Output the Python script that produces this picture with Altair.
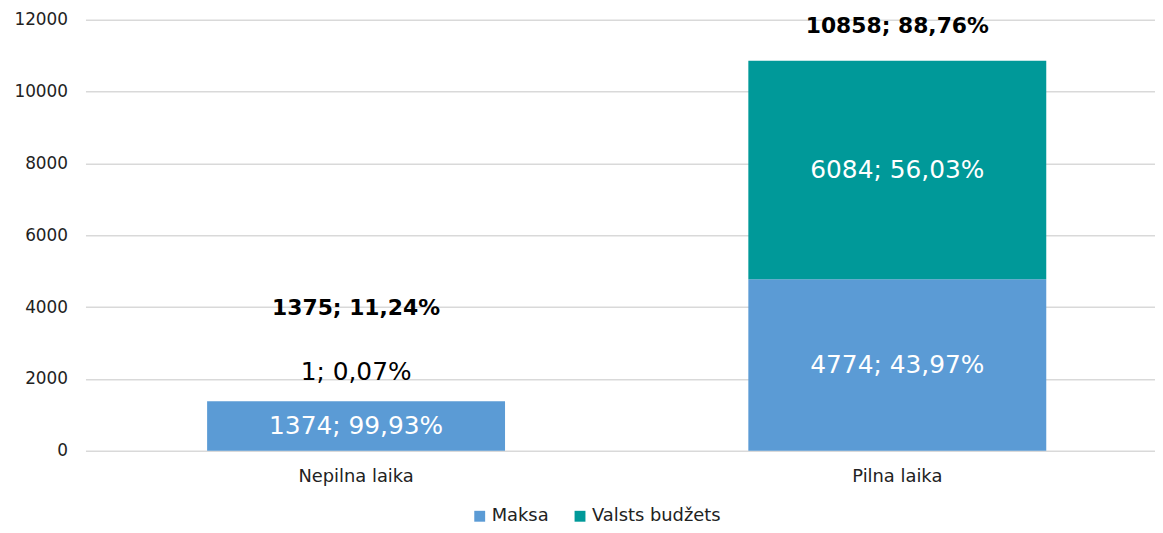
import altair as alt
import pandas as pd

categories = ["Nepilna laika", "Pilna laika"]
series = ["Maksa", "Valsts budžets"]
maksa = [1374, 4774]
valsts = [1, 6084]
colors = ["#5B9BD5", "#009999"]

def fmt(v, tot):
    return f"{v}; {100 * v / tot:.2f}%".replace(".", ",")

rows = []
totals = [m + v for m, v in zip(maksa, valsts)]
grand = sum(totals)
for i, c in enumerate(categories):
    for j, (s, vals) in enumerate(zip(series, [maksa, valsts])):
        rows.append({"cat": c, "series": s, "value": vals[i], "ord": j,
                     "label": fmt(vals[i], totals[i])})
df = pd.DataFrame(rows)
tot_df = pd.DataFrame({"cat": categories, "total": totals,
                       "label": [fmt(t, grand) for t in totals]})

FONT = "DejaVu Sans"
x_scale = alt.Scale(domain=categories, paddingInner=0, paddingOuter=0)
y_scale = alt.Scale(domain=[0, 12000], nice=False)

x_enc = alt.X("cat:N", title=None, sort=categories, scale=x_scale)

bars = alt.Chart(df).mark_bar(size=300).encode(
    x=x_enc,
    y=alt.Y("value:Q", stack="zero", title=None, scale=y_scale),
    color=alt.Color("series:N", sort=series,
                    scale=alt.Scale(domain=series, range=colors),
                    legend=alt.Legend(title=None, orient="none", direction="horizontal",
                                      legendX=388, legendY=491, symbolType="square",
                                      symbolSize=120, labelFontSize=18, labelFont=FONT,
                                      labelColor="#222", columnPadding=22, symbolOffset=0,
                                      labelOffset=3, symbolStrokeWidth=0)),
    order=alt.Order("ord:Q"),
)

stacked = alt.Chart(df).transform_stack(
    stack="value", groupby=["cat"], as_=["y0", "y1"],
    sort=[alt.SortField("ord", order="ascending")]
).transform_calculate(mid="(datum.y0 + datum.y1) / 2")

inner = stacked.transform_filter("datum.value > 100").mark_text(
    color="white", fontSize=25, font=FONT, baseline="middle"
).encode(x=x_enc, y=alt.Y("mid:Q", scale=y_scale, title=None), text="label:N")

small = stacked.transform_filter("datum.value <= 100").mark_text(
    color="black", fontSize=25, font=FONT, baseline="middle", dy=-29
).encode(x=x_enc, y=alt.Y("y1:Q", scale=y_scale, title=None), text="label:N")

tot_base = alt.Chart(tot_df).encode(x=x_enc,
                                    y=alt.Y("total:Q", scale=y_scale, title=None),
                                    text="label:N")
tot1 = tot_base.transform_filter(alt.datum.cat == categories[0]).mark_text(
    fontSize=22, fontWeight="bold", font=FONT, color="black", baseline="middle", dy=-94)
tot2 = tot_base.transform_filter(alt.datum.cat == categories[1]).mark_text(
    fontSize=22, fontWeight="bold", font=FONT, color="black", baseline="middle", dy=-35)

chart = alt.layer(bars, inner, small, tot1, tot2).properties(
    width=1090, height=434,
    autosize=alt.AutoSizeParams(type="none"),
    padding={"left": 78, "top": 10, "right": -13, "bottom": 73},
).configure_view(stroke=None).configure_axisY(
    ticks=False, domain=False, format="d", tickCount=6, gridColor="#D9D9D9",
    gridWidth=1.5, labelPadding=18, labelFontSize=17, labelColor="#222", labelFont=FONT,
).configure_axisX(
    labelAngle=0, ticks=False, domain=False, grid=False, labelPadding=17,
    labelFontSize=18, labelColor="#222", labelFont=FONT,
)

chart.save("out.html", embed_options={"renderer": "svg", "actions": False})
